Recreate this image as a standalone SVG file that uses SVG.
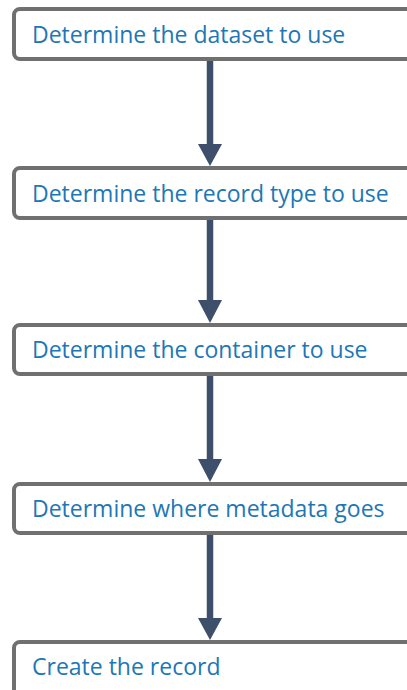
<svg xmlns="http://www.w3.org/2000/svg" width="407" height="690" viewBox="0 0 407 690">
  <style>
    .box { fill: #ffffff; stroke: #707070; stroke-width: 4; }
    .label { font-family: "Open Sans", "Noto Sans", sans-serif; font-size: 23px; fill: #2177b6; }
    .shaft { stroke: #3d4f6b; stroke-width: 6.5; fill: none; }
    .head { fill: #3d4f6b; }
  </style>
  <rect width="407" height="690" fill="#ffffff"/>
  <g id="connectors">
    <line class="shaft" x1="210" y1="61" x2="210" y2="146"/>
    <polygon class="head" points="198,144 222,144 210,166"/>
    <line class="shaft" x1="210" y1="220" x2="210" y2="302"/>
    <polygon class="head" points="198,300 222,300 210,323"/>
    <line class="shaft" x1="210" y1="376" x2="210" y2="461"/>
    <polygon class="head" points="198,459 222,459 210,482"/>
    <line class="shaft" x1="210" y1="535" x2="210" y2="620"/>
    <polygon class="head" points="198,618 222,618 210,640"/>
  </g>
  <g id="node1">
    <rect class="box" x="14" y="9" width="420" height="50" rx="6"/>
    <text class="label" x="32" y="43">Determine the dataset to use</text>
  </g>
  <g id="node2">
    <rect class="box" x="14" y="168" width="420" height="50" rx="6"/>
    <text class="label" x="32" y="202">Determine the record type to use</text>
  </g>
  <g id="node3">
    <rect class="box" x="14" y="325" width="420" height="49" rx="6"/>
    <text class="label" x="32" y="358">Determine the container to use</text>
  </g>
  <g id="node4">
    <rect class="box" x="14" y="484" width="420" height="49" rx="6"/>
    <text class="label" x="32" y="517">Determine where metadata goes</text>
  </g>
  <g id="node5">
    <rect class="box" x="14" y="642" width="420" height="60" rx="6"/>
    <text class="label" x="32" y="675">Create the record</text>
  </g>
</svg>
